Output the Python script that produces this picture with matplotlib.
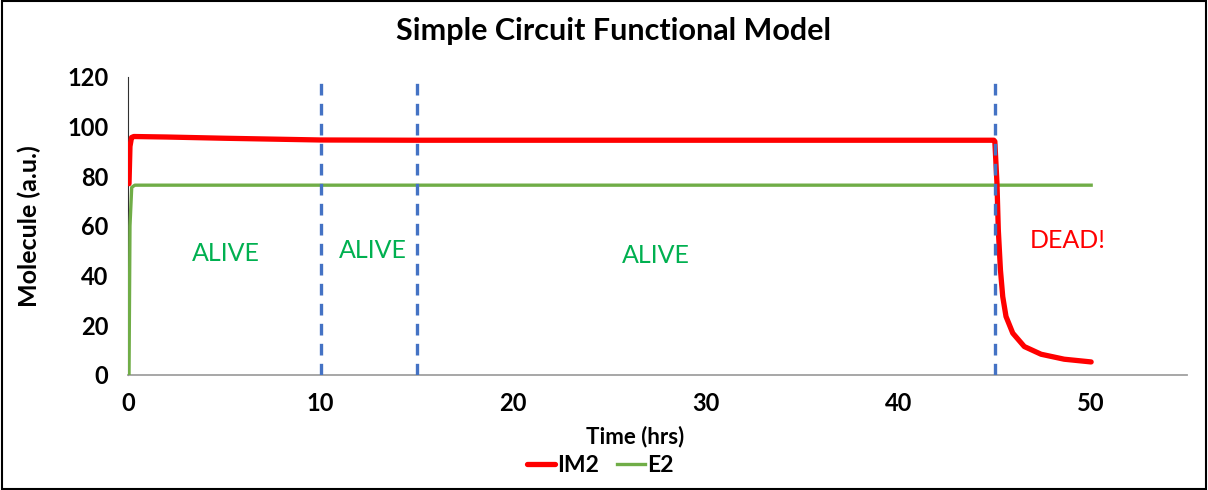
import matplotlib.pyplot as plt
import numpy as np
from matplotlib.patches import Rectangle

plt.rcParams['font.family'] = ['Lato', 'DejaVu Sans']

im2_t = [0.05, 0.1, 0.18, 0.3, 2, 5, 10, 15, 30, 44.95, 45.0, 45.11, 45.18, 45.29,
         45.41, 45.58, 45.93, 46.53, 47.4, 48.6, 50]
im2_y = [77, 92, 95.6, 96.0, 95.8, 95.3, 94.6, 94.5, 94.5, 94.5, 94.0, 77.2, 58.4, 42.3,
         31.5, 23.5, 16.8, 11.4, 8.3, 6.3, 5.2]
e2_t = [0.05, 0.1, 0.19, 0.35, 10, 30, 50]
e2_y = [0, 60, 75.5, 76.4, 76.4, 76.4, 76.4]
events = [10, 15, 45]
labels = ["ALIVE", "ALIVE", "ALIVE", "DEAD!"]
label_x = [5.1, 12.7, 27.4, 48.8]
label_y = [49, 50, 48, 54]
label_colors = ["#00B050", "#00B050", "#00B050", "#FF0000"]

fig = plt.figure(figsize=(12.08, 4.9), dpi=100)
ax = fig.add_axes([0.106, 0.235, 0.877, 0.608])

ax.plot(e2_t, e2_y, color="#70AD47", lw=2.4, label="E2", zorder=3)
ax.plot(im2_t, im2_y, color="#FF0000", lw=3.8, label="IM2", zorder=4,
        solid_capstyle="round", solid_joinstyle="round")
for ev in events:
    ax.plot([ev, ev], [0, 117.5], color="#4472C4", lw=2.4, ls=(0, (3.5, 2.5)), zorder=5)

for txt, x, y, c in zip(labels, label_x, label_y, label_colors):
    ax.text(x, y, txt, color=c, fontsize=18, ha="center", va="center")

ax.set_xlim(0, 55)
ax.set_ylim(0, 120)
ax.set_xticks([0, 10, 20, 30, 40, 50])
ax.set_yticks(np.arange(0, 121, 20))
ax.tick_params(length=0, labelsize=17)
ax.tick_params(axis="x", pad=12)
ax.tick_params(axis="y", pad=14)
for lab in ax.get_xticklabels() + ax.get_yticklabels():
    lab.set_fontweight("bold")

for s in ["top", "right"]:
    ax.spines[s].set_visible(False)
ax.spines["bottom"].set_color("#A0A0A0")
ax.spines["bottom"].set_linewidth(1.3)
ax.spines["left"].set_color("#303030")
ax.spines["left"].set_linewidth(0.8)

ax.set_ylabel("Molecule (a.u.)", fontsize=18, fontweight="bold")
ax.yaxis.set_label_coords(-0.082, 0.5)
ax.set_xlabel("Time (hrs)", fontsize=16, fontweight="bold")
ax.xaxis.set_label_coords(0.479, -0.17)
fig.suptitle("Simple Circuit Functional Model", fontsize=22, fontweight="bold",
             x=0.508, y=0.965)

handles, names = ax.get_legend_handles_labels()
fig.legend(handles[::-1], names[::-1], loc="center", bbox_to_anchor=(0.497, 0.05),
           ncol=2, frameon=False, handlelength=1.2, handletextpad=0.1,
           columnspacing=0.8, prop={"weight": "bold", "size": 16.5})

fig.add_artist(Rectangle((0.002, 0.003), 0.996, 0.994, transform=fig.transFigure,
                         fill=False, edgecolor="black", lw=1.5))

plt.savefig("out.png", dpi=100)
